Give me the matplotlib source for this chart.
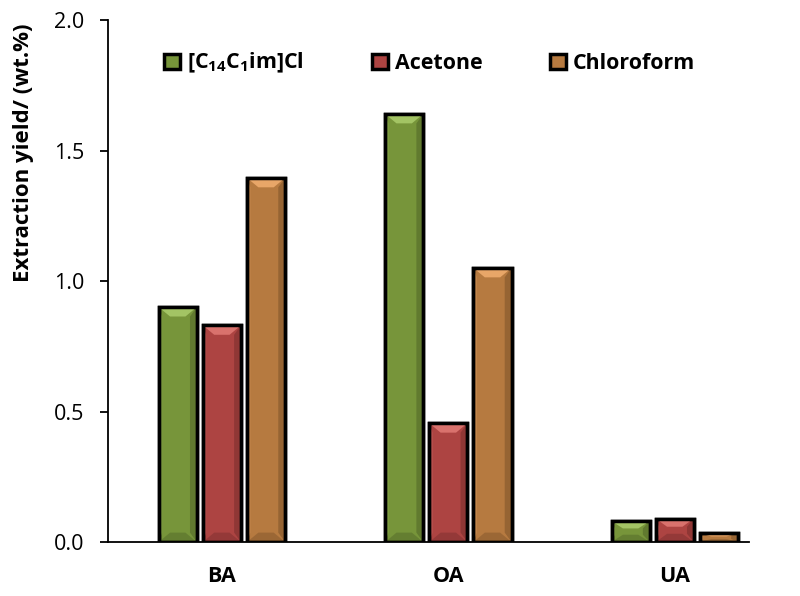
import matplotlib.pyplot as plt
from matplotlib.patches import Polygon
import numpy as np

plt.rcParams['font.family'] = ['Open Sans', 'DejaVu Sans']
plt.rcParams['mathtext.fontset'] = 'custom'
plt.rcParams['mathtext.rm'] = 'Open Sans:bold'
plt.rcParams['mathtext.bf'] = 'Open Sans:bold'

groups = ['BA', 'OA', 'UA']
series = [r'[C$_{14}$C$_{1}$im]Cl', 'Acetone', 'Chloroform']
il_yield = [0.90, 1.64, 0.08]
acetone_yield = [0.83, 0.455, 0.09]
chloroform_yield = [1.395, 1.05, 0.033]
colors = ['#77953a', '#ad4442', '#b67a40']
light = ['#a3c464', '#d9726d', '#e8a668']
dark = ['#4f6427', '#772d2c', '#7c5229']

fig = plt.figure(figsize=(8, 5.96), dpi=100)
ax = fig.add_axes([0.135, 0.0906, 0.801, 0.8758])

x = np.arange(len(groups))
w = 0.168
step = 0.195
values = [il_yield, acetone_yield, chloroform_yield]
dx, dy = 0.05, 0.036  # bevel size in data units
for i, (vals, lab, c) in enumerate(zip(values, series, colors)):
    bars = ax.bar(x + (i - 1) * step, vals, w, color=c, edgecolor='black',
                  linewidth=2.5, label=lab, zorder=3)
    for b in bars:
        x0, y0 = b.get_x(), b.get_y()
        x1, y1 = x0 + b.get_width(), y0 + b.get_height()
        h = min(dy, b.get_height() * 0.35)
        # right darker side, left lighter side
        ax.add_patch(Polygon([(x1, y0), (x1, y1), (x1 - dx * 0.6, y1 - h), (x1 - dx * 0.6, y0 + h)],
                             closed=True, color=dark[i], alpha=0.55, lw=0, zorder=4))
        ax.add_patch(Polygon([(x0, y0), (x0, y1), (x0 + dx * 0.3, y1 - h), (x0 + dx * 0.3, y0 + h)],
                             closed=True, color=light[i], alpha=0.3, lw=0, zorder=4))
        # top light cap, bottom dark cap
        ax.add_patch(Polygon([(x0, y1), (x1, y1), (x1 - dx, y1 - h), (x0 + dx, y1 - h)],
                             closed=True, color=light[i], lw=0, zorder=4))
        ax.add_patch(Polygon([(x0, y0), (x1, y0), (x1 - dx, y0 + h), (x0 + dx, y0 + h)],
                             closed=True, color=dark[i], alpha=0.45, lw=0, zorder=4))
        ax.add_patch(Polygon([(x0, y0), (x0, y1), (x1, y1), (x1, y0)], closed=True,
                             fill=False, edgecolor='black', lw=2.5, zorder=5))

ax.set_xlim(-0.503, 2.327)
ax.set_ylim(0, 2.0)
ax.set_yticks([0, 0.5, 1.0, 1.5, 2.0])
ax.set_yticklabels(['0.0', '0.5', '1.0', '1.5', '2.0'])
ax.set_xticks(x)
ax.set_xticklabels(groups, fontweight='bold', fontsize=15.5)
ax.tick_params(axis='x', length=0, pad=17)
ax.tick_params(axis='y', direction='out', length=6, width=1.3, labelsize=15.5, pad=11)

for s in ['top', 'right']:
    ax.spines[s].set_visible(False)
for s in ['left', 'bottom']:
    ax.spines[s].set_linewidth(1.3)

ax.set_ylabel('Extraction yield/ (wt.%)', fontweight='bold', fontsize=16)
ax.yaxis.set_label_coords(-0.116, 0.745)

leg = ax.legend(loc='center', bbox_to_anchor=(0.502, 0.917), ncol=3,
                frameon=False, handlelength=0.75, handleheight=0.75,
                handletextpad=0.33, columnspacing=3.15,
                prop={'weight': 'bold', 'size': 15.4})

fig.savefig('out.png', dpi=100)
